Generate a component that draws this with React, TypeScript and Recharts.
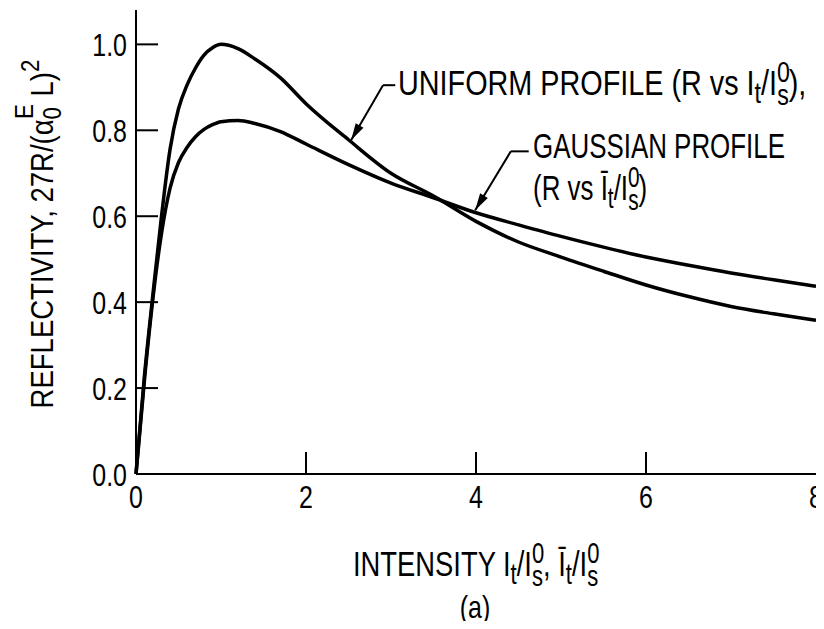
import React from 'react';
import { LineChart, Line, XAxis, YAxis, ReferenceLine } from 'recharts';

// intensity I_t/I_s^0 (or mean intensity for the gaussian profile)
const intensity = [0, 0.1, 0.2, 0.3, 0.4, 0.5, 0.6, 0.7, 0.8, 0.9, 1.0, 1.2, 1.4, 1.7, 2.0, 2.5, 3.0, 3.5, 4.0, 4.5, 5.0, 5.5, 6.0, 6.5, 7.0, 7.5, 8.0];
const uniformR = [0, 0.23, 0.42, 0.6, 0.755, 0.85, 0.905, 0.945, 0.975, 0.992, 1.0, 0.99, 0.966, 0.922, 0.862, 0.778, 0.7, 0.647, 0.588, 0.54, 0.505, 0.472, 0.44, 0.413, 0.39, 0.373, 0.358];
const gaussianR = [0, 0.22, 0.41, 0.56, 0.665, 0.725, 0.76, 0.785, 0.802, 0.813, 0.82, 0.823, 0.816, 0.797, 0.768, 0.72, 0.677, 0.643, 0.608, 0.58, 0.553, 0.528, 0.505, 0.486, 0.468, 0.452, 0.437];

const xTicks = [0, 2, 4, 6, 8];
const yTicks = [0, 0.2, 0.4, 0.6, 0.8, 1.0];

// leader lines: [tip on curve, corner, end near the text]
const uniformLeader = [{ x: 2.53, y: 0.777 }, { x: 2.906, y: 0.905 }, { x: 3.05, y: 0.905 }];
const gaussianLeader = [{ x: 3.99, y: 0.614 }, { x: 4.41, y: 0.751 }, { x: 4.62, y: 0.751 }];

const data = intensity.map((x, i) => ({ x, uniform: uniformR[i], gaussian: gaussianR[i] }));

const FONT = "'Liberation Sans', Arial, sans-serif";
const TICK = 22;
const SX = 0.78; // the original lettering is a condensed face

const NText = ({ x, y, size, anchor = 'start', sx = SX, rotate = false, children }: any) => (
  <text transform={`translate(${x},${y})${rotate ? ' rotate(-90)' : ''} scale(${sx},1)`}
    fontSize={size} textAnchor={anchor} fontFamily={FONT} fill="#000">{children}</text>
);

// I_t / I_s^0 with the stacked sub/superscript
const Ratio = ({ bar = false, tail = '' }: any) => (
  <>
    <tspan>{bar ? 'Ī' : 'I'}</tspan>
    <tspan fontSize={29} dy={8}>t</tspan><tspan dy={-8}>/I</tspan>
    <tspan fontSize={29} dy={-13}>0</tspan><tspan fontSize={29} dx={-16} dy={23}>s</tspan>
    <tspan dy={-10}>{tail}</tspan>
  </>
);

const BottomTick = (p: any) => {
  const v = p.payload.value;
  return (
    <g>
      {v > 0 && v < 8 && <line x1={p.x} y1={p.y} x2={p.x} y2={p.y - TICK} stroke="#000" strokeWidth={2} />}
      <NText x={p.x} y={p.y + 34} size={32} anchor="middle">{v}</NText>
    </g>
  );
};

const TopTick = (p: any) => (
  <line x1={p.x} y1={p.y} x2={p.x} y2={p.y + TICK} stroke="#000" strokeWidth={2} />
);

const LeftTick = (p: any) => {
  const v = p.payload.value;
  return (
    <g>
      {v > 0 && <line x1={p.x} y1={p.y} x2={p.x + TICK} y2={p.y} stroke="#000" strokeWidth={2} />}
      <NText x={p.x - 9} y={p.y + 12} size={32} anchor="end">{v.toFixed(1)}</NText>
    </g>
  );
};

const RightTick = (p: any) => (
  <line x1={p.x} y1={p.y} x2={p.x - TICK} y2={p.y} stroke="#000" strokeWidth={2} />
);

const Arrow = (p: any) => {
  const { x1, y1, x2, y2 } = p;
  const dx = x2 - x1;
  const dy = y2 - y1;
  const len = Math.sqrt(dx * dx + dy * dy) || 1;
  const ux = dx / len;
  const uy = dy / len;
  const L = 17;
  const W = 4.5;
  const bx = x1 + ux * L;
  const by = y1 + uy * L;
  return (
    <g>
      <line x1={x1} y1={y1} x2={x2} y2={y2} stroke="#000" strokeWidth={2} />
      <polygon points={`${x1},${y1} ${bx - uy * W},${by + ux * W} ${bx + uy * W},${by - ux * W}`} fill="#000" />
    </g>
  );
};

const Plain = (p: any) => <line x1={p.x1} y1={p.y1} x2={p.x2} y2={p.y2} stroke="#000" strokeWidth={2} />;

const axisLine = { stroke: '#000', strokeWidth: 2 };

export default function App() {
  return (
    <div style={{ position: 'relative', width: 816, height: 613 }}>
      <LineChart width={816} height={613} data={data} margin={{ top: 2, right: 8, bottom: 0, left: 0 }} style={{ overflow: 'visible' }}>
        <XAxis xAxisId="b" dataKey="x" type="number" domain={[0, 8]} ticks={xTicks} interval={0} height={147}
          tickSize={0} tickMargin={0} tickLine={false} axisLine={axisLine} tick={BottomTick} />
        <XAxis xAxisId="t" orientation="top" dataKey="x" type="number" domain={[0, 8]} ticks={[2, 4, 6]} interval={0} height={0}
          tickSize={0} tickMargin={0} tickLine={false} axisLine={axisLine} tick={TopTick} />
        <YAxis yAxisId="l" type="number" domain={[0, 1.08]} ticks={yTicks} interval={0} width={128}
          tickSize={0} tickMargin={0} tickLine={false} axisLine={axisLine} tick={LeftTick} />
        <YAxis yAxisId="r" orientation="right" type="number" domain={[0, 1.08]} ticks={[0.2, 0.4, 0.6, 0.8, 1.0]} interval={0} width={0}
          tickSize={0} tickMargin={0} tickLine={false} axisLine={axisLine} tick={RightTick} />
        <Line xAxisId="b" yAxisId="l" type="monotone" dataKey="uniform" stroke="#000" strokeWidth={3.5} dot={false} activeDot={false} isAnimationActive={false} />
        <Line xAxisId="b" yAxisId="l" type="monotone" dataKey="gaussian" stroke="#000" strokeWidth={3.5} dot={false} activeDot={false} isAnimationActive={false} />
        <ReferenceLine xAxisId="b" yAxisId="l" segment={[uniformLeader[0], uniformLeader[1]]} shape={Arrow} />
        <ReferenceLine xAxisId="b" yAxisId="l" segment={[uniformLeader[1], uniformLeader[2]]} shape={Plain} />
        <ReferenceLine xAxisId="b" yAxisId="l" segment={[gaussianLeader[0], gaussianLeader[1]]} shape={Arrow} />
        <ReferenceLine xAxisId="b" yAxisId="l" segment={[gaussianLeader[1], gaussianLeader[2]]} shape={Plain} />
      </LineChart>
      <svg width={816} height={613} style={{ position: 'absolute', left: 0, top: 0, pointerEvents: 'none', overflow: 'visible' }}>
        <NText x={390} y={87} size={36} sx={0.8}>UNIFORM PROFILE (R vs <Ratio tail="),"></Ratio></NText>
        <NText x={525} y={150} size={36} sx={0.72}>GAUSSIAN PROFILE</NText>
        <NText x={525} y={192} size={36} sx={0.72}>(R vs <Ratio bar tail=")"></Ratio></NText>
        <NText x={345} y={568} size={36} sx={0.76}>INTENSITY <Ratio tail=", "></Ratio><Ratio bar></Ratio></NText>
        <NText x={467} y={610} size={32} anchor="middle">(a)</NText>
        <NText x={45} y={226} size={32} sx={0.86} anchor="middle" rotate>
          REFLECTIVITY, 27R/(α<tspan fontSize={26} dy={8}>0</tspan>
          <tspan fontSize={26} dx={-14} dy={-28}>E</tspan><tspan dy={20}> L)</tspan>
          <tspan fontSize={26} dy={-14}>2</tspan>
        </NText>
      </svg>
    </div>
  );
}
